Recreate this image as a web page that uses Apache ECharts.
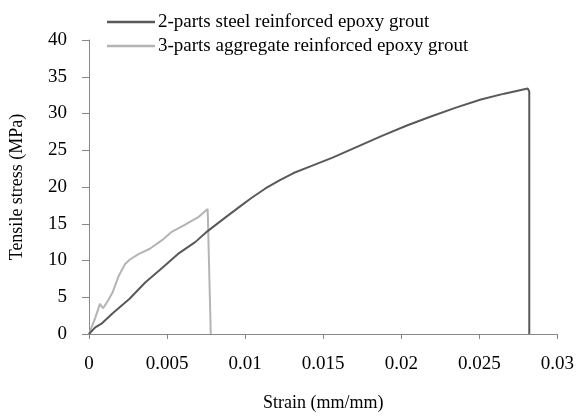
<!DOCTYPE html>
<html>
<head>
<meta charset="utf-8">
<script src="https://cdn.jsdelivr.net/npm/echarts@6/dist/echarts.min.js"></script>
<style>html,body{margin:0;padding:0;background:#fff}#c{width:577px;height:417px}</style>
</head>
<body>
<div id="c"></div>
<script>
var seriesNames = ['2-parts steel reinforced epoxy grout', '3-parts aggregate reinforced epoxy grout'];
var steelStrain = [0, 0.0004, 0.0008, 0.0015, 0.0026, 0.0036, 0.0047, 0.0057, 0.0068, 0.0076, 0.0087, 0.0097, 0.0104, 0.0113, 0.0122, 0.0131, 0.0143, 0.0156, 0.0172, 0.0188, 0.0204, 0.0219, 0.0235, 0.0251, 0.0266, 0.0281, 0.0282, 0.0282];
var steelStress = [0, 0.9, 1.4, 2.8, 4.8, 7.0, 9.0, 10.9, 12.5, 14.0, 15.8, 17.4, 18.5, 19.8, 20.9, 21.9, 22.9, 24.0, 25.5, 27.0, 28.4, 29.6, 30.8, 31.9, 32.7, 33.4, 33.0, 0];
var aggStrain = [0, 0.0004, 0.0007, 0.0009, 0.0012, 0.0015, 0.0019, 0.0023, 0.0026, 0.0032, 0.0039, 0.0047, 0.0053, 0.0061, 0.0070, 0.0076, 0.0078];
var aggStress = [0, 2.2, 4.1, 3.5, 4.5, 5.6, 7.9, 9.5, 10.1, 10.9, 11.6, 12.8, 13.9, 14.8, 15.9, 17.0, 0];

function pairs(xs, ys) { return xs.map(function (x, i) { return [x, ys[i]]; }); }

var font = 'Liberation Serif';
var steelColor = '#595959';
var aggColor = '#b4b4b4';
var chart = echarts.init(document.getElementById('c'), null, { renderer: 'canvas' });
chart.setOption({
  animation: false,
  backgroundColor: '#fff',
  textStyle: { fontFamily: font },
  grid: { left: 86, right: 16, top: 40, bottom: 78, containLabel: false },
  legend: {
    orient: 'vertical', left: 102, top: 7.5, itemWidth: 48, itemHeight: 2.5, itemGap: 5,
    icon: 'rect',
    textStyle: { fontFamily: font, fontSize: 19, color: '#000', padding: [0, 0, 0, -2] },
    data: [
      { name: seriesNames[0], itemStyle: { color: steelColor } },
      { name: seriesNames[1], itemStyle: { color: aggColor } }
    ]
  },
  xAxis: {
    type: 'value', min: 0, max: 0.03, interval: 0.005,
    name: 'Strain (mm/mm)', nameLocation: 'middle', nameGap: 60,
    nameTextStyle: { fontFamily: font, fontSize: 18, color: '#000' },
    axisLine: { show: true, lineStyle: { color: '#888', width: 1 } },
    axisTick: { show: true, length: 5, lineStyle: { color: '#888' } },
    axisLabel: { fontFamily: font, fontSize: 19, color: '#000', margin: 21 },
    splitLine: { show: false }
  },
  yAxis: {
    type: 'value', min: 0, max: 40, interval: 5,
    name: 'Tensile stress (MPa)', nameLocation: 'middle', nameGap: 63, nameRotate: 90,
    nameTextStyle: { fontFamily: font, fontSize: 18, color: '#000' },
    axisLine: { show: true, lineStyle: { color: '#888', width: 1 } },
    axisTick: { show: true, length: 7, lineStyle: { color: '#888' } },
    axisLabel: { fontFamily: font, fontSize: 19, color: '#000', margin: 22 },
    splitLine: { show: false }
  },
  series: [
    { name: seriesNames[0], type: 'line', symbol: 'none', data: pairs(steelStrain, steelStress),
      lineStyle: { color: steelColor, width: 2 }, itemStyle: { color: steelColor }, z: 3 },
    { name: seriesNames[1], type: 'line', symbol: 'none', data: pairs(aggStrain, aggStress),
      lineStyle: { color: aggColor, width: 2 }, itemStyle: { color: aggColor }, z: 2 }
  ]
});
</script>
</body>
</html>
